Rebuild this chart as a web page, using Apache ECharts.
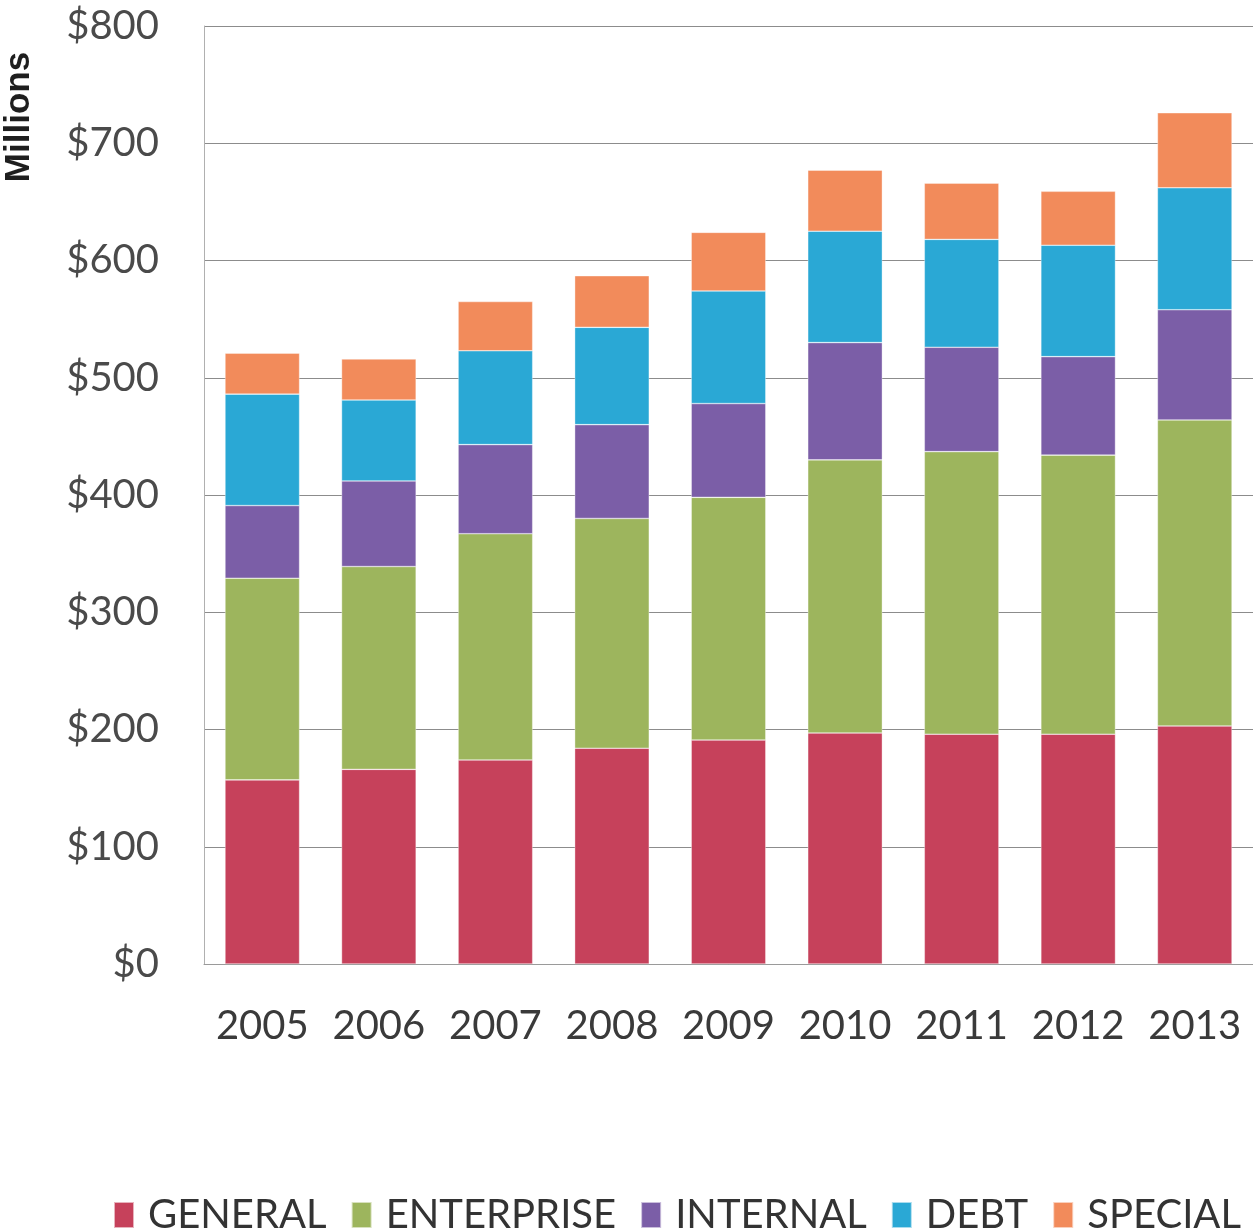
<!DOCTYPE html>
<html>
<head>
<meta charset="utf-8">
<script src="https://cdn.jsdelivr.net/npm/echarts@6/dist/echarts.min.js"></script>
<style>
  html, body { margin: 0; padding: 0; background: #ffffff; }
  #chart { width: 1253px; height: 1232px; }
</style>
</head>
<body>
<div id="chart"></div>
<script>
// Fiscal years on the category axis
const years = ['2005', '2006', '2007', '2008', '2009', '2010', '2011', '2012', '2013'];

// Spending by fund type, $ millions
const general    = [157, 166, 174, 184, 191, 197, 196, 196, 203];
const enterprise = [172, 173, 193, 196, 207, 233, 241, 238, 261];
const internal   = [62, 73, 76, 80, 80, 100, 89, 84, 94];
const debt       = [95, 69, 80, 83, 96, 95, 92, 95, 104];
const special    = [35, 35, 42, 44, 50, 52, 48, 46, 64];

// Value-axis ticks
const yMin = 0, yMax = 800, yStep = 100;

const fundNames  = ['GENERAL', 'ENTERPRISE', 'INTERNAL', 'DEBT', 'SPECIAL'];
const fundValues = [general, enterprise, internal, debt, special];
const fundColors = ['#c6415b', '#9db55d', '#7b5ea7', '#2aa8d5', '#f28b5b'];

const textFont = 'Lato, "Open Sans", sans-serif';

const chart = echarts.init(document.getElementById('chart'), null, { renderer: 'canvas' });

chart.setOption({
  backgroundColor: '#ffffff',
  animation: false,
  grid: { left: 204, right: -4, top: 26, bottom: 268 },
  legend: {
    data: fundNames,
    left: 108,
    top: 1190,
    icon: 'rect',
    itemWidth: 20,
    itemHeight: 26,
    itemGap: 24,
    textStyle: { fontFamily: textFont, fontSize: 40, color: '#333333', padding: [0, 0, 0, 9] }
  },
  xAxis: {
    type: 'category',
    data: years,
    axisLine: { show: true, lineStyle: { color: '#9a9a9a', width: 1 } },
    axisTick: { show: false },
    axisLabel: { interval: 0, fontFamily: textFont, fontSize: 40, color: '#3a3a3a', margin: 42 }
  },
  yAxis: {
    type: 'value',
    min: yMin,
    max: yMax,
    interval: yStep,
    axisLine: { show: true, lineStyle: { color: '#b0b0b0', width: 1 } },
    axisTick: { show: false },
    axisLabel: {
      fontFamily: textFont, fontSize: 40, color: '#4a4a4a', margin: 45,
      formatter: v => '$' + v
    },
    splitLine: { show: true, lineStyle: { color: '#8c8c8c', width: 1.2 } }
  },
  graphic: [{
    type: 'text',
    x: 19,
    y: 117,
    rotation: Math.PI / 2,
    style: {
      text: 'Millions',
      font: 'bold 35px "Liberation Sans", Arial, sans-serif',
      fill: '#1e1e1e',
      textAlign: 'center',
      textVerticalAlign: 'middle'
    }
  }],
  series: fundNames.map((name, i) => ({
    name: name,
    type: 'bar',
    stack: 'funds',
    data: fundValues[i],
    barWidth: '64%',
    itemStyle: { color: fundColors[i], borderColor: 'rgba(255,255,255,0.6)', borderWidth: 0.6 }
  }))
});
</script>
</body>
</html>
